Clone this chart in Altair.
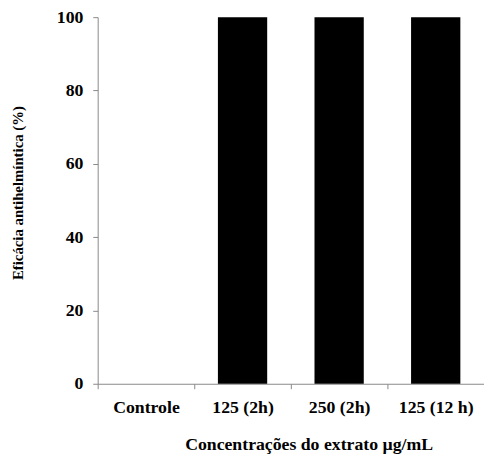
import altair as alt
import pandas as pd

categories = ["Controle", "125 (2h)", "250 (2h)", "125 (12 h)"]
efficacy = [0, 100, 100, 100]

df = pd.DataFrame({"cat": categories, "val": efficacy})

FONT = "Liberation Serif"

chart = alt.Chart(df).mark_bar(color="black", size=50).encode(
    x=alt.X("cat:N", sort=categories,
            scale=alt.Scale(paddingInner=0, paddingOuter=0),
            axis=alt.Axis(title="Concentrações do extrato µg/mL", labelAngle=0,
                          tickBand="extent", tickSize=5, labelPadding=10,
                          labelFontSize=18,
                          titleFontSize=18, titleX=214, titleY=62,
                          titleBaseline="middle", titleAlign="center")),
    y=alt.Y("val:Q", scale=alt.Scale(domain=[0, 100], nice=False),
            axis=alt.Axis(title="Eficácia antihelmíntica (%)", values=[0, 20, 40, 60, 80, 100],
                          tickSize=5, labelPadding=10, grid=False,
                          labelFontSize=18, titleFontSize=15,
                          titleX=-81, titleY=178, titleAngle=270,
                          titleBaseline="middle", titleAlign="center")),
).properties(
    width=392, height=372,
    autosize=alt.AutoSizeParams(type="none"),
    padding={"left": 91, "top": 6, "right": 0, "bottom": 70},
).configure_view(stroke=None).configure_axis(
    domainColor="#888888", tickColor="#888888",
    labelFont=FONT, titleFont=FONT,
    labelFontWeight="bold", titleFontWeight="bold",
    labelColor="black", titleColor="black",
)

chart.save("out.html", embed_options={"renderer": "svg", "actions": False})
